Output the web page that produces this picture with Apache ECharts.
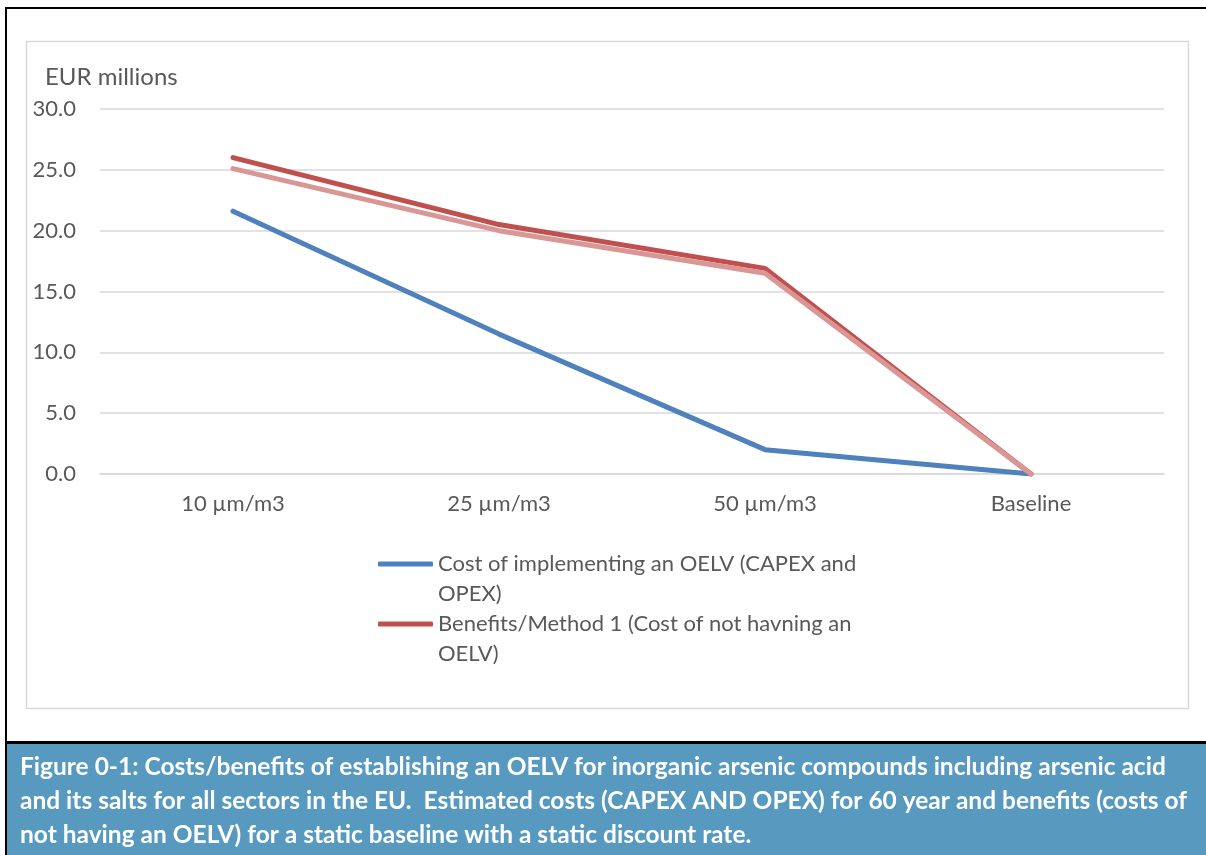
<!DOCTYPE html>
<html>
<head>
<meta charset="utf-8">
<script src="https://cdn.jsdelivr.net/npm/echarts@6/dist/echarts.min.js"></script>
<style>
  html, body { margin: 0; padding: 0; background: #ffffff; }
  #chart { width: 1206px; height: 855px; }
</style>
</head>
<body>
<div id="chart"></div>
<script>
// Exposure limit scenarios on the category axis
const categories = ['10 µm/m3', '25 µm/m3', '50 µm/m3', 'Baseline'];

// EUR millions per scenario
const costValues = [21.6, 11.5, 2.0, 0.0];
const benefitMethod1Values = [26.0, 20.5, 16.9, 0.0];
const benefitMethod2Values = [25.1, 20.0, 16.5, 0.0];

// Value axis range and step
const yMin = 0;
const yMax = 30;
const yStep = 5;

const costName = 'Cost of implementing an OELV (CAPEX and OPEX)';
const benefit1Name = 'Benefits/Method 1 (Cost of not havning an OELV)';
const benefit2Name = 'Benefits/Method 2';

// Legend text as it wraps under the symbol
const legendLines = {
  [costName]: ['Cost of implementing an OELV (CAPEX and', 'OPEX)'],
  [benefit1Name]: ['Benefits/Method 1 (Cost of not havning an', 'OELV)']
};

const axisTitle = 'EUR millions';

const captionLines = [
  'Figure 0-1: Costs/benefits of establishing an OELV for inorganic arsenic compounds including arsenic acid',
  'and its salts for all sectors in the EU.  Estimated costs (CAPEX AND OPEX) for 60 year and benefits (costs of',
  'not having an OELV) for a static baseline with a static discount rate.'
];

const FONT = 'Lato, "Open Sans", sans-serif';
const TEXT_GREY = '#595959';
const GRID_GREY = '#d9d9d9';

const chart = echarts.init(document.getElementById('chart'), null, { renderer: 'canvas' });

function legendBlock(name, top) {
  return {
    show: true,
    orient: 'vertical',
    left: 378,
    top: top,
    padding: 0,
    data: [name],
    icon: 'roundRect',
    itemWidth: 55,
    itemHeight: 5,
    itemGap: 0,
    selectedMode: false,
    // leading blank line keeps the symbol level with the first text line
    formatter: n => '\n' + legendLines[n].join('\n'),
    textStyle: {
      fontFamily: FONT,
      fontSize: 22,
      color: TEXT_GREY,
      lineHeight: 30
    }
  };
}

function lineSeries(name, values, color) {
  return {
    name: name,
    type: 'line',
    data: values,
    symbol: 'none',
    smooth: false,
    silent: true,
    lineStyle: { color: color, width: 5, cap: 'round', join: 'round' },
    itemStyle: { color: color }
  };
}

const option = {
  animation: false,
  backgroundColor: '#ffffff',
  textStyle: { fontFamily: FONT },
  title: {
    text: axisTitle,
    left: 45,
    top: 62,
    padding: 0,
    textStyle: {
      fontFamily: FONT,
      fontSize: 24,
      fontWeight: 'normal',
      color: TEXT_GREY,
      lineHeight: 30
    }
  },
  grid: {
    left: 100,
    right: 42,
    top: 109,
    bottom: 381,
    containLabel: false
  },
  legend: [
    legendBlock(costName, 519),
    legendBlock(benefit1Name, 579)
  ],
  xAxis: {
    type: 'category',
    data: categories,
    boundaryGap: true,
    axisLine: { show: true, lineStyle: { color: GRID_GREY, width: 1.5 } },
    axisTick: { show: false },
    axisLabel: {
      fontFamily: FONT,
      fontSize: 22,
      color: TEXT_GREY,
      margin: 19
    }
  },
  yAxis: {
    type: 'value',
    min: yMin,
    max: yMax,
    interval: yStep,
    axisLine: { show: false },
    axisTick: { show: false },
    splitLine: { lineStyle: { color: GRID_GREY, width: 1.5 } },
    axisLabel: {
      fontFamily: FONT,
      fontSize: 22,
      color: TEXT_GREY,
      margin: 24,
      formatter: v => v.toFixed(1)
    }
  },
  series: [
    lineSeries(costName, costValues, '#4f81bd'),
    lineSeries(benefit1Name, benefitMethod1Values, '#c0504d'),
    lineSeries(benefit2Name, benefitMethod2Values, '#d99694')
  ],
  graphic: [
    // chart area frame
    {
      type: 'rect', silent: true, z: -1,
      shape: { x: 26.5, y: 41.5, width: 1162, height: 667 },
      style: { fill: '#ffffff', stroke: GRID_GREY, lineWidth: 1.5 }
    },
    // outer black border (top, left, caption separator)
    {
      type: 'rect', silent: true,
      shape: { x: 5, y: 7, width: 1201, height: 2 },
      style: { fill: '#000000' }
    },
    {
      type: 'rect', silent: true,
      shape: { x: 5, y: 7, width: 2, height: 848 },
      style: { fill: '#000000' }
    },
    {
      type: 'rect', silent: true,
      shape: { x: 5, y: 741, width: 1201, height: 3 },
      style: { fill: '#000000' }
    },
    // caption band
    {
      type: 'rect', silent: true,
      shape: { x: 7, y: 744, width: 1199, height: 111 },
      style: { fill: '#5799bf' }
    },
    {
      type: 'text', silent: true,
      left: 20, top: 750,
      style: {
        text: captionLines.join('\n'),
        fill: '#ffffff',
        font: 'bold 24.5px ' + FONT,
        lineHeight: 34
      }
    }
  ]
};

chart.setOption(option);
</script>
</body>
</html>
